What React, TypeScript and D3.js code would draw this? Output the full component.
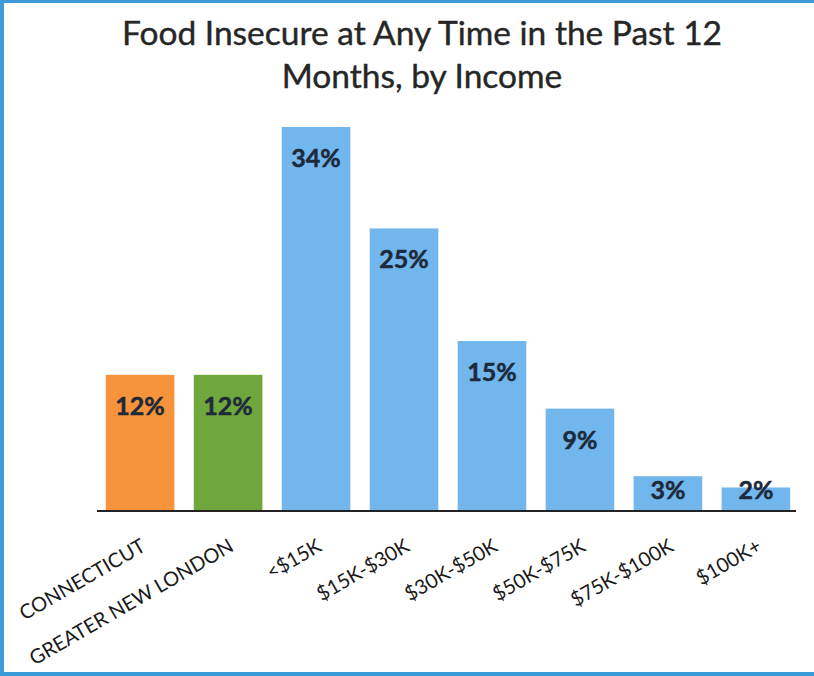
import React from "react";
import * as d3 from "d3";

const categories = ["CONNECTICUT", "GREATER NEW LONDON", "<$15K", "$15K-$30K", "$30K-$50K", "$50K-$75K", "$75K-$100K", "$100K+"];
const values = [12, 12, 34, 25, 15, 9, 3, 2];
const barColors = ["#f7933a", "#70a73c", "#72b6ee", "#72b6ee", "#72b6ee", "#72b6ee", "#72b6ee", "#72b6ee"];
const titleLines = ["Food Insecure at Any Time in the Past 12", "Months, by Income"];

const W = 814;
const H = 676;

export default function App() {
  const x = d3.scaleBand<string>().domain(categories).range([97, 799]).paddingInner(0.22).paddingOuter(0.1);
  const y = d3.scaleLinear().domain([0, 34]).range([510, 127]);
  const font = "Lato, 'Open Sans', sans-serif";
  return (
    <svg width={W} height={H} style={{ position: "absolute", left: 0, top: 0, background: "#fff" }}>
      <rect x={0} y={0} width={W} height={H} fill="#fff" />
      {/* border */}
      <rect x={0} y={0} width={W} height={3} fill="#3b9ad8" />
      <rect x={0} y={0} width={4} height={H} fill="#3b9ad8" />
      <rect x={0} y={672} width={W} height={4} fill="#3b9ad8" />
      {/* title */}
      {titleLines.map((t, i) => (
        <text key={i} x={422} y={45 + i * 43} textAnchor="middle" fontFamily={font} fontSize={33.5} fill="#262626" stroke="#262626" strokeWidth={0.4}>
          {t}
        </text>
      ))}
      {/* bars */}
      {categories.map((c, i) => (
        <rect key={c} x={x(c)} y={y(values[i])} width={x.bandwidth()} height={y(0) - y(values[i])} fill={barColors[i]} />
      ))}
      {/* value labels */}
      {categories.map((c, i) => (
        <text
          key={c + "v"}
          x={(x(c) as number) + x.bandwidth() / 2}
          y={Math.min(y(values[i]) + 40, 499)}
          textAnchor="middle"
          fontFamily={font}
          fontWeight="bold"
          fontSize={25}
          fill="#1d2a3a"
          stroke="#1d2a3a"
          strokeWidth={0.5}
        >
          {values[i]}%
        </text>
      ))}
      {/* axis line */}
      <line x1={97} x2={796} y1={511} y2={511} stroke="#222" strokeWidth={2} />
      {/* category labels */}
      {categories.map((c) => {
        const cx = (x(c) as number) + x.bandwidth() / 2;
        return (
          <text
            key={c + "l"}
            transform={`translate(${cx + 7},550) rotate(-30)`}
            textAnchor="end"
            fontFamily={font}
            fontSize={20}
            fill="#1a1a1a"
          >
            {c}
          </text>
        );
      })}
    </svg>
  );
}
